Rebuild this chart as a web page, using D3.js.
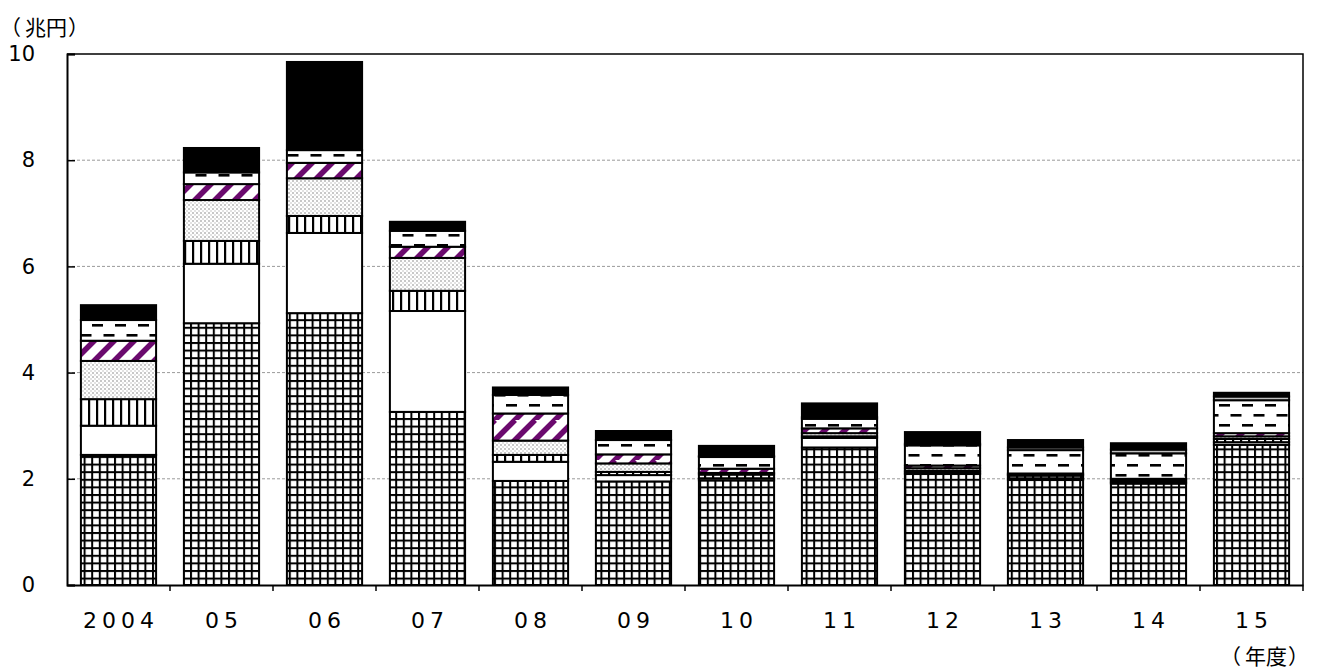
<!DOCTYPE html>
<html>
<head>
<meta charset="utf-8">
<script src="https://cdn.jsdelivr.net/npm/d3@7"></script>
<style>
  html, body { margin: 0; padding: 0; background: #fff; }
  svg { display: block; }
  text { fill: #000; }
</style>
</head>
<body>
<svg id="chart" width="1328" height="671"></svg>
<script>
// Fiscal years (category axis)
const years = ["2004", "05", "06", "07", "08", "09", "10", "11", "12", "13", "14", "15"];

// Stacked components, trillion yen, bottom to top
const gridPart   = [2.45, 4.93, 5.12, 3.26, 1.96, 1.95, 1.97, 2.59, 2.09, 1.98, 1.91, 2.64];
const whitePart  = [0.55, 1.12, 1.51, 1.90, 0.36, 0.12, 0.04, 0.18, 0.03, 0.03, 0.02, 0.05];
const vertPart   = [0.50, 0.43, 0.32, 0.38, 0.13, 0.06, 0.07, 0.03, 0.03, 0.05, 0.02, 0.06];
const dotPart    = [0.72, 0.77, 0.71, 0.62, 0.27, 0.16, 0.03, 0.06, 0.05, 0.02, 0.03, 0.05];
const purplePart = [0.38, 0.30, 0.29, 0.21, 0.51, 0.17, 0.08, 0.09, 0.05, 0.02, 0.02, 0.06];
const dashPart   = [0.39, 0.22, 0.24, 0.30, 0.35, 0.27, 0.22, 0.18, 0.38, 0.44, 0.48, 0.62];
const grayPart   = [0.00, 0.00, 0.00, 0.00, 0.00, 0.00, 0.02, 0.03, 0.03, 0.05, 0.07, 0.07];
const blackPart  = [0.28, 0.46, 1.66, 0.17, 0.14, 0.17, 0.19, 0.26, 0.22, 0.14, 0.12, 0.07];

// Value axis ticks
const yTicks = [0, 2, 4, 6, 8, 10];

const seriesKeys = ["grid", "white", "vert", "dot", "purple", "dash", "gray", "black"];
const seriesValues = {
  grid: gridPart, white: whitePart, vert: vertPart, dot: dotPart,
  purple: purplePart, dash: dashPart, gray: grayPart, black: blackPart
};
const rows = years.map((y, i) => {
  const r = { year: y };
  seriesKeys.forEach(k => r[k] = seriesValues[k][i]);
  return r;
});

const svg = d3.select("#chart");
const margin = { left: 67, right: 25, top: 54, bottom: 86 };
const W = 1328, H = 671;
const x0 = margin.left, x1 = W - margin.right, y0 = H - margin.bottom, y1 = margin.top;

const x = d3.scaleBand().domain(years).range([x0, x1]).paddingInner(0.27).paddingOuter(0.135);
const y = d3.scaleLinear().domain([0, 10]).range([y0, y1]);

const numFont = "'DejaVu Sans', sans-serif";
const cjkFont = "'Noto Sans CJK JP', 'Noto Sans CJK SC', sans-serif";

// Fill patterns
const defs = svg.append("defs");

const pGrid = defs.append("pattern").attr("id", "p-grid").attr("patternUnits", "userSpaceOnUse")
  .attr("width", 7.6).attr("height", 7.6);
pGrid.append("rect").attr("width", 7.6).attr("height", 7.6).attr("fill", "#fff");
pGrid.append("rect").attr("x", 0).attr("y", 0).attr("width", 2).attr("height", 7.6).attr("fill", "#000");
pGrid.append("rect").attr("x", 0).attr("y", 0).attr("width", 7.6).attr("height", 2).attr("fill", "#000");

const pVert = defs.append("pattern").attr("id", "p-vert").attr("patternUnits", "userSpaceOnUse")
  .attr("width", 8).attr("height", 8);
pVert.append("rect").attr("width", 8).attr("height", 8).attr("fill", "#fff");
pVert.append("rect").attr("x", 0).attr("width", 2.2).attr("height", 8).attr("fill", "#000");

const pDot = defs.append("pattern").attr("id", "p-dot").attr("patternUnits", "userSpaceOnUse")
  .attr("width", 4).attr("height", 4);
pDot.append("rect").attr("width", 4).attr("height", 4).attr("fill", "#fff");
pDot.append("rect").attr("x", 0).attr("y", 0).attr("width", 2).attr("height", 2).attr("fill", "#c8c8c8");
pDot.append("rect").attr("x", 2).attr("y", 2).attr("width", 2).attr("height", 2).attr("fill", "#e2e2e2");

const pPurple = defs.append("pattern").attr("id", "p-purple").attr("patternUnits", "userSpaceOnUse")
  .attr("width", 20).attr("height", 20);
pPurple.append("rect").attr("width", 20).attr("height", 20).attr("fill", "#fff");
pPurple.append("path").attr("d", "M-5,20 L15,0 M5,30 L25,10 M-15,10 L5,-10")
  .attr("stroke", "#6b0a6e").attr("stroke-width", 5.5);

const pDash = defs.append("pattern").attr("id", "p-dash").attr("patternUnits", "userSpaceOnUse")
  .attr("width", 23).attr("height", 20);
pDash.append("rect").attr("width", 23).attr("height", 20).attr("fill", "#fff");
pDash.append("rect").attr("x", 0).attr("y", 4).attr("width", 11).attr("height", 2.6).attr("fill", "#000");
pDash.append("rect").attr("x", 11.5).attr("y", 14).attr("width", 11).attr("height", 2.6).attr("fill", "#000");

const fills = {
  grid: "url(#p-grid)", white: "#fff", vert: "url(#p-vert)", dot: "url(#p-dot)",
  purple: "url(#p-purple)", dash: "url(#p-dash)", gray: "#c0c0c0", black: "#000"
};

// Horizontal reference lines
svg.append("g").selectAll("line")
  .data(yTicks.filter(t => t > 0 && t < 10))
  .join("line")
  .attr("x1", x0).attr("x2", x1)
  .attr("y1", d => y(d)).attr("y2", d => y(d))
  .attr("stroke", "#9a9a9a").attr("stroke-width", 1).attr("stroke-dasharray", "3,2");

// Stacked bars
const stacked = d3.stack().keys(seriesKeys)(rows);
svg.append("g").selectAll("g")
  .data(stacked)
  .join("g")
  .attr("fill", d => fills[d.key])
  .selectAll("rect")
  .data(d => d)
  .join("rect")
  .attr("x", d => x(d.data.year))
  .attr("width", x.bandwidth())
  .attr("y", d => y(d[1]))
  .attr("height", d => Math.max(0, y(d[0]) - y(d[1])))
  .attr("stroke", "#000")
  .attr("stroke-width", 2);

// Frame: top and right edges
svg.append("path")
  .attr("d", `M${x0},${y1} L${x1},${y1} L${x1},${y0}`)
  .attr("fill", "none").attr("stroke", "#000").attr("stroke-width", 1.5);

// Value axis
const yAxis = svg.append("g").attr("transform", `translate(${x0},0)`)
  .call(d3.axisLeft(y).tickValues(yTicks).tickSize(-8).tickPadding(32).tickFormat(d3.format("d")));
yAxis.select(".domain").attr("stroke-width", 2);
yAxis.selectAll(".tick line").attr("stroke-width", 1.5);
yAxis.selectAll(".tick text").attr("font-size", 21).attr("text-anchor", "end")
  .attr("font-family", numFont);

// Category axis
const xAxis = svg.append("g").attr("transform", `translate(0,${y0})`)
  .call(d3.axisBottom(x).tickSize(0).tickPadding(27));
xAxis.select(".domain").attr("stroke-width", 2);
xAxis.selectAll(".tick text").attr("font-size", 22).attr("letter-spacing", "5px").attr("dx", "2.5px")
  .attr("font-family", numFont);

// Boundary ticks between categories
const step = x.step();
const bounds = d3.range(years.length + 1).map(i => x0 + i * step);
svg.append("g").selectAll("line")
  .data(bounds.slice(1))
  .join("line")
  .attr("x1", d => d).attr("x2", d => d)
  .attr("y1", y0).attr("y2", y0 + 6)
  .attr("stroke", "#000").attr("stroke-width", 1.5);

// Unit labels: brackets placed separately so they sit wide of the kanji
function unitLabel(xLeft, yBase, inner) {
  const t = svg.append("text").attr("y", yBase).attr("font-size", 21).attr("font-family", cjkFont);
  t.append("tspan").attr("x", xLeft - 6).text("（");
  t.append("tspan").attr("x", xLeft + 19).text(inner);
  t.append("tspan").attr("x", xLeft + 62).text("）");
}
unitLabel(6, 35, "兆円");
unitLabel(1226, 664, "年度");
</script>
</body>
</html>
